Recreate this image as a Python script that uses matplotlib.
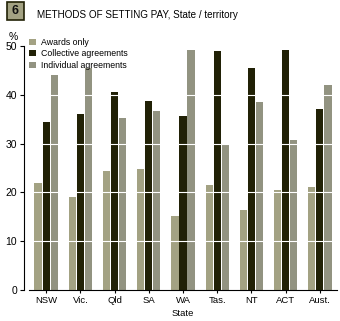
import matplotlib
matplotlib.use('Agg')
import matplotlib.pyplot as plt
import numpy as np
from matplotlib.patches import Rectangle

states = ['NSW', 'Vic.', 'Qld', 'SA', 'WA', 'Tas.', 'NT', 'ACT', 'Aust.']
awards_only = [21.9, 19.0, 24.4, 24.8, 15.2, 21.6, 16.4, 20.5, 21.2]
collective = [34.5, 36.0, 40.5, 38.7, 35.6, 49.0, 45.5, 49.1, 37.1]
individual = [44.0, 45.5, 35.2, 36.7, 49.1, 29.7, 38.5, 30.7, 42.0]
series_names = ['Awards only', 'Collective agreements', 'Individual agreements']
colors = ['#a3a283', '#212106', '#929381']
yticks = [0, 10, 20, 30, 40, 50]

plt.rcParams['font.family'] = ['Liberation Sans', 'DejaVu Sans']

fig = plt.figure(figsize=(3.4, 3.21), dpi=100)
ax = fig.add_axes([29 / 340, 31 / 321, 308 / 340, 244 / 321])

x = np.arange(len(states))
w = 0.21
off = 0.235
for i, (vals, c) in enumerate(zip([awards_only, collective, individual], colors)):
    ax.bar(x + (i - 1) * off, vals, width=w, color=c, zorder=2, label=series_names[i])

# white gridlines cut through the bars
for t in yticks[1:-1]:
    ax.axhline(t, color='white', lw=0.8, zorder=3)

ax.set_xlim(-0.5, len(states) - 0.5)
ax.set_ylim(0, 50)
ax.set_yticks(yticks)
ax.set_xticks(x)
ax.set_xticklabels(states)

for s in ['top', 'right']:
    ax.spines[s].set_visible(False)
ax.spines['left'].set_position(('outward', 3.6))
ax.spines['left'].set_linewidth(0.8)
ax.spines['bottom'].set_linewidth(0.8)
ax.tick_params(axis='y', length=3, width=0.8, pad=2, labelsize=7.5)
ax.tick_params(axis='x', length=2.5, width=0.8, pad=2, labelsize=6.8)

ax.set_xlabel('State', fontsize=6.8, labelpad=3)

leg = ax.legend(loc='upper left', bbox_to_anchor=(-0.01, 1.048), frameon=False,
                fontsize=6.3, handlelength=0.7, handleheight=0.7, handletextpad=0.6,
                labelspacing=0.3, borderaxespad=0)

fig.text(13 / 340, 1 - 37 / 321, '%', fontsize=7.5, ha='center', va='center')

# numbered box and title
fig.patches.append(Rectangle((7 / 340, 1 - 20 / 321), 17 / 340, 18 / 321,
                             transform=fig.transFigure, facecolor='#a3a283',
                             edgecolor='#212106', lw=1.2))
fig.text(15.5 / 340, 1 - 11 / 321, '6', fontsize=9, fontweight='bold',
         ha='center', va='center', color='#111111')
fig.text(37 / 340, 1 - 15 / 321, 'METHODS OF SETTING PAY, State / territory',
         fontsize=7.1, ha='left', va='center')

fig.savefig('out.png', dpi=100)
